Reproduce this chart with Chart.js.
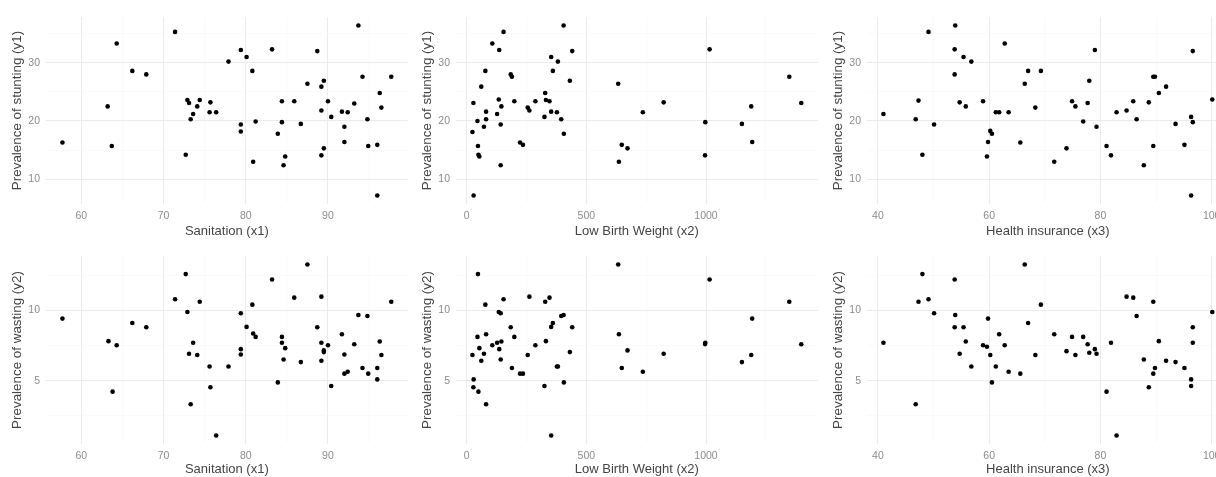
<!DOCTYPE html>
<html>
<head>
<meta charset="utf-8">
<script src="https://cdn.jsdelivr.net/npm/chart.js@4.4.1/dist/chart.umd.min.js"></script>
<style>
  html, body { margin: 0; padding: 0; background: #fff; overflow: hidden; }
  body { width: 1216px; height: 477px; position: relative; }
  .cell { position: absolute; width: 410px; height: 239px; }
</style>
</head>
<body>
<div class="cell" style="left:0px;top:0px"><canvas id="c1" width="410" height="239"></canvas></div>
<div class="cell" style="left:410px;top:0px"><canvas id="c2" width="410" height="239"></canvas></div>
<div class="cell" style="left:821px;top:0px"><canvas id="c3" width="410" height="239"></canvas></div>
<div class="cell" style="left:0px;top:239px"><canvas id="c4" width="410" height="238"></canvas></div>
<div class="cell" style="left:410px;top:239px"><canvas id="c5" width="410" height="238"></canvas></div>
<div class="cell" style="left:821px;top:239px"><canvas id="c6" width="410" height="238"></canvas></div>
<script>
// stunting (y1) vs sanitation (x1)
const sanitationA = [57.7, 63.2, 63.7, 64.3, 66.2, 67.9, 71.4, 72.7, 72.9, 73.1, 73.3, 73.6, 74.1, 74.4,
  75.7, 75.6, 76.4, 77.9, 79.4, 79.4, 79.4, 80.1, 80.8, 80.9, 81.2, 83.2, 83.9, 84.4, 84.4, 84.8,
  84.6, 85.9, 86.7, 87.5, 88.7, 89.2, 89.5, 89.2, 89.2, 89.5, 90.0, 90.4, 91.7, 92.4, 92.0, 92.0,
  93.2, 93.7, 94.2, 94.8, 94.9, 96.0, 96.3, 96.5, 96.0, 97.7];
const stuntingA = [16.3, 22.5, 15.7, 33.3, 28.6, 28.0, 35.3, 14.2, 23.6, 23.1, 20.3, 21.2, 22.5, 23.6,
  23.2, 21.5, 21.5, 30.2, 32.2, 19.4, 18.2, 31.0, 28.6, 13.0, 19.9, 32.3, 17.8, 23.4, 19.8, 13.9,
  12.4, 23.4, 19.5, 26.4, 32.0, 25.9, 26.9, 21.8, 14.1, 15.3, 23.4, 20.7, 21.6, 21.5, 19.0, 16.4,
  23.0, 36.4, 27.6, 20.3, 15.7, 15.9, 24.8, 22.3, 7.2, 27.6];

// stunting (y1) vs low birth weight (x2)
const lbwB = [29, 24, 28, 45, 47, 49, 53, 61, 72, 78, 81, 81, 107, 127, 134, 136, 142, 142, 145, 154,
  184, 189, 199, 223, 235, 255, 262, 287, 325, 328, 331, 346, 353, 353, 360, 377, 381, 395, 405, 406,
  431, 441, 633, 636, 648, 672, 736, 823, 997, 996, 1015, 1150, 1189, 1193, 1348, 1398];
const stuntingB = [7.2, 18.1, 23.1, 20.0, 15.7, 14.2, 13.9, 25.9, 19.0, 28.6, 20.3, 21.6, 33.3, 21.2,
  23.7, 32.2, 19.4, 12.4, 22.5, 35.3, 28.0, 27.6, 23.4, 16.3, 15.9, 22.3, 21.8, 23.4, 20.7, 24.8,
  23.6, 23.4, 31.0, 21.6, 28.6, 21.5, 30.2, 20.3, 36.4, 17.8, 26.9, 32.0, 26.4, 13.0, 15.9, 15.3,
  21.5, 23.2, 19.8, 14.1, 32.3, 19.5, 22.5, 16.4, 27.6, 23.1];

// stunting (y1) vs health insurance (x3)
const insuranceC = [41.0, 46.8, 47.3, 48.0, 49.1, 50.1, 53.8, 53.8, 53.9, 54.7, 55.4, 55.8, 56.8, 58.9,
  59.6, 59.8, 60.2, 60.5, 61.2, 61.8, 62.8, 63.5, 65.6, 66.4, 67.0, 68.3, 69.3, 71.7, 73.9, 74.9,
  75.5, 76.9, 77.7, 78.0, 79.0, 79.3, 81.1, 81.9, 82.9, 84.7, 85.9, 86.5, 87.8, 88.7, 89.5, 89.8,
  89.5, 90.5, 91.8, 93.5, 95.1, 96.3, 96.6, 96.6, 96.3, 100.1];
const stuntingC = [21.2, 20.3, 23.5, 14.2, 35.3, 19.4, 32.3, 28.0, 36.4, 23.2, 31.0, 22.5, 30.2, 23.4,
  13.9, 16.4, 18.3, 17.8, 21.5, 21.5, 33.3, 21.5, 16.3, 26.4, 28.6, 22.3, 28.6, 13.0, 15.3, 23.4,
  22.5, 19.9, 23.1, 26.9, 32.2, 19.0, 15.7, 14.1, 21.5, 21.8, 23.4, 20.3, 12.4, 23.2, 27.6, 27.6,
  15.7, 24.8, 25.9, 19.5, 15.9, 20.7, 32.0, 19.8, 7.2, 23.7];

// wasting (y2) vs sanitation (x1)
const sanitationD = [57.7, 63.3, 63.8, 64.3, 66.2, 67.9, 71.4, 72.7, 72.9, 73.1, 73.3, 73.6, 74.1, 74.4,
  75.6, 75.7, 76.4, 77.9, 79.4, 79.4, 79.4, 80.1, 80.8, 80.9, 81.2, 83.2, 83.9, 84.4, 84.4, 84.8,
  84.6, 85.9, 86.7, 87.5, 88.7, 89.2, 89.5, 89.2, 89.2, 89.5, 90.0, 90.4, 91.7, 92.4, 92.0, 92.0,
  93.2, 93.7, 94.2, 94.8, 94.9, 96.0, 96.3, 96.5, 96.0, 97.7];
const wastingD = [9.41, 7.81, 4.22, 7.52, 9.10, 8.80, 10.78, 12.57, 9.88, 6.91, 3.33, 7.69, 6.82, 10.61,
  6.01, 4.53, 1.11, 6.01, 9.79, 7.24, 6.86, 8.82, 10.40, 8.35, 8.11, 12.19, 4.88, 8.11, 7.69, 7.31,
  6.51, 10.90, 6.32, 13.25, 8.80, 7.69, 7.03, 10.97, 6.42, 7.15, 7.52, 4.62, 8.30, 5.64, 6.86, 5.50,
  7.59, 9.67, 5.90, 9.60, 5.50, 5.90, 7.78, 6.82, 5.09, 10.61];

// wasting (y2) vs low birth weight (x2)
const lbwE = [24, 29, 28, 47, 45, 49, 53, 61, 72, 78, 81, 81, 107, 127, 134, 136, 142, 142, 145, 154,
  184, 189, 199, 223, 235, 255, 262, 287, 325, 328, 331, 346, 353, 353, 360, 377, 381, 395, 405, 406,
  431, 441, 633, 636, 648, 672, 736, 823, 997, 996, 1015, 1150, 1189, 1193, 1348, 1398];
const wastingE = [6.82, 5.09, 4.53, 12.57, 8.11, 4.22, 7.31, 6.42, 6.91, 10.40, 8.30, 3.33, 7.52, 7.69,
  9.88, 7.24, 9.79, 6.51, 7.78, 10.78, 8.80, 5.90, 8.11, 5.50, 5.50, 6.82, 10.97, 7.52, 4.62, 10.61,
  7.81, 10.90, 1.11, 8.82, 9.10, 6.01, 6.01, 9.60, 9.67, 4.88, 7.03, 8.80, 13.25, 8.30, 5.90, 7.15,
  5.64, 6.91, 7.69, 7.60, 12.19, 6.32, 6.82, 9.41, 10.61, 7.59];

// wasting (y2) vs health insurance (x3)
const insuranceF = [41.0, 46.8, 47.3, 48.0, 49.1, 50.1, 53.8, 53.8, 53.9, 54.7, 55.4, 55.8, 56.8, 58.9,
  59.6, 59.8, 60.2, 60.5, 61.2, 61.8, 62.8, 63.5, 65.6, 66.4, 67.0, 68.3, 69.3, 71.7, 73.9, 74.9,
  75.5, 76.9, 77.7, 78.0, 79.0, 79.3, 81.1, 81.9, 82.9, 84.7, 85.9, 86.5, 87.8, 88.7, 89.5, 89.5,
  89.8, 90.5, 91.8, 93.5, 95.1, 96.3, 96.3, 96.6, 96.6, 100.1];
const wastingF = [7.69, 3.33, 10.61, 12.57, 10.78, 9.79, 12.19, 8.80, 9.67, 6.91, 8.80, 7.78, 6.01, 7.52,
  7.41, 9.41, 6.82, 4.88, 6.01, 8.30, 7.52, 5.64, 5.50, 13.25, 9.10, 6.82, 10.40, 8.30, 7.10, 8.11,
  6.82, 8.11, 7.59, 6.98, 7.24, 6.91, 4.22, 7.69, 1.11, 10.97, 10.90, 9.60, 6.51, 4.53, 10.61, 5.50,
  5.90, 7.81, 6.42, 6.32, 5.90, 5.09, 4.62, 8.80, 7.69, 9.88];

// tick values (major labelled, minor grid only)
const sanitationTicks = [60, 70, 80, 90];
const sanitationMinor = [65, 75, 85, 95];
const lbwTicks = [0, 500, 1000];
const lbwMinor = [250, 750, 1250];
const insuranceTicks = [40, 60, 80, 100];
const insuranceMinor = [50, 70, 90];
const stuntingTicks = [10, 20, 30];
const stuntingMinor = [15, 25, 35];
const wastingTicks = [5, 10];
const wastingMinor = [2.5, 7.5, 12.5];

const FONT = "'Liberation Sans', Arial, sans-serif";

// ggplot-like 5% expansion of the data range
function expand(vals) {
  const lo = Math.min(...vals), hi = Math.max(...vals);
  const pad = (hi - lo) * 0.05;
  return [lo - pad, hi + pad];
}

function makeChart(id, xs, ys, xTitle, yTitle, xMajor, xMinor, yMajor, yMinor, xAxisH) {
  const xr = expand(xs);
  const yr = expand(ys);
  const gridColor = (major) => (c) => (c.tick && major.includes(c.tick.value) ? '#ebebeb' : '#f6f6f6');
  const gridWidth = (major) => (c) => (c.tick && major.includes(c.tick.value) ? 1 : 0.6);

  new Chart(document.getElementById(id), {
    type: 'scatter',
    data: {
      datasets: [{
        data: xs.map((x, i) => ({ x: x, y: ys[i] })),
        backgroundColor: '#000',
        borderWidth: 0,
        pointRadius: 2.3,
        pointHoverRadius: 2.3,
      }],
    },
    options: {
      responsive: false,
      animation: false,
      events: [],
      layout: { padding: { top: 17, right: 2, left: 0, bottom: 0 } },
      plugins: {
        legend: { display: false },
        tooltip: { enabled: false },
      },
      scales: {
        x: {
          type: 'linear',
          min: xr[0],
          max: xr[1],
          afterBuildTicks: (s) => {
            s.ticks = [...xMajor, ...xMinor].sort((a, b) => a - b).map((v) => ({ value: v }));
          },
          afterFit: (s) => { s.height = xAxisH; },
          ticks: {
            autoSkip: false,
            maxRotation: 0,
            padding: 6,
            color: '#8c8c8c',
            font: { family: FONT, size: 10.5 },
            callback: (v) => (xMajor.includes(v) ? String(v) : ''),
          },
          grid: { color: gridColor(xMajor), lineWidth: gridWidth(xMajor), drawTicks: false },
          border: { display: false },
          title: {
            display: true,
            text: xTitle,
            color: '#444',
            font: { family: FONT, size: 13 },
            padding: { top: 0, bottom: 0 },
          },
        },
        y: {
          type: 'linear',
          min: yr[0],
          max: yr[1],
          afterBuildTicks: (s) => {
            s.ticks = [...yMajor, ...yMinor].sort((a, b) => a - b).map((v) => ({ value: v }));
          },
          afterFit: (s) => { s.width = 46; },
          ticks: {
            autoSkip: false,
            padding: 6,
            color: '#8c8c8c',
            font: { family: FONT, size: 10.5 },
            callback: (v) => (yMajor.includes(v) ? String(v) : ''),
          },
          grid: { color: gridColor(yMajor), lineWidth: gridWidth(yMajor), drawTicks: false },
          border: { display: false },
          title: {
            display: true,
            text: yTitle,
            color: '#444',
            font: { family: FONT, size: 13.4 },
            padding: { top: 9, bottom: 0 },
          },
        },
      },
    },
  });
}

makeChart('c1', sanitationA, stuntingA, 'Sanitation (x1)', 'Prevalence of stunting (y1)',
  sanitationTicks, sanitationMinor, stuntingTicks, stuntingMinor, 35);
makeChart('c2', lbwB, stuntingB, 'Low Birth Weight (x2)', 'Prevalence of stunting (y1)',
  lbwTicks, lbwMinor, stuntingTicks, stuntingMinor, 35);
makeChart('c3', insuranceC, stuntingC, 'Health insurance (x3)', 'Prevalence of stunting (y1)',
  insuranceTicks, insuranceMinor, stuntingTicks, stuntingMinor, 35);
makeChart('c4', sanitationD, wastingD, 'Sanitation (x1)', 'Prevalence of wasting (y2)',
  sanitationTicks, sanitationMinor, wastingTicks, wastingMinor, 33);
makeChart('c5', lbwE, wastingE, 'Low Birth Weight (x2)', 'Prevalence of wasting (y2)',
  lbwTicks, lbwMinor, wastingTicks, wastingMinor, 33);
makeChart('c6', insuranceF, wastingF, 'Health insurance (x3)', 'Prevalence of wasting (y2)',
  insuranceTicks, insuranceMinor, wastingTicks, wastingMinor, 33);
</script>
</body>
</html>
